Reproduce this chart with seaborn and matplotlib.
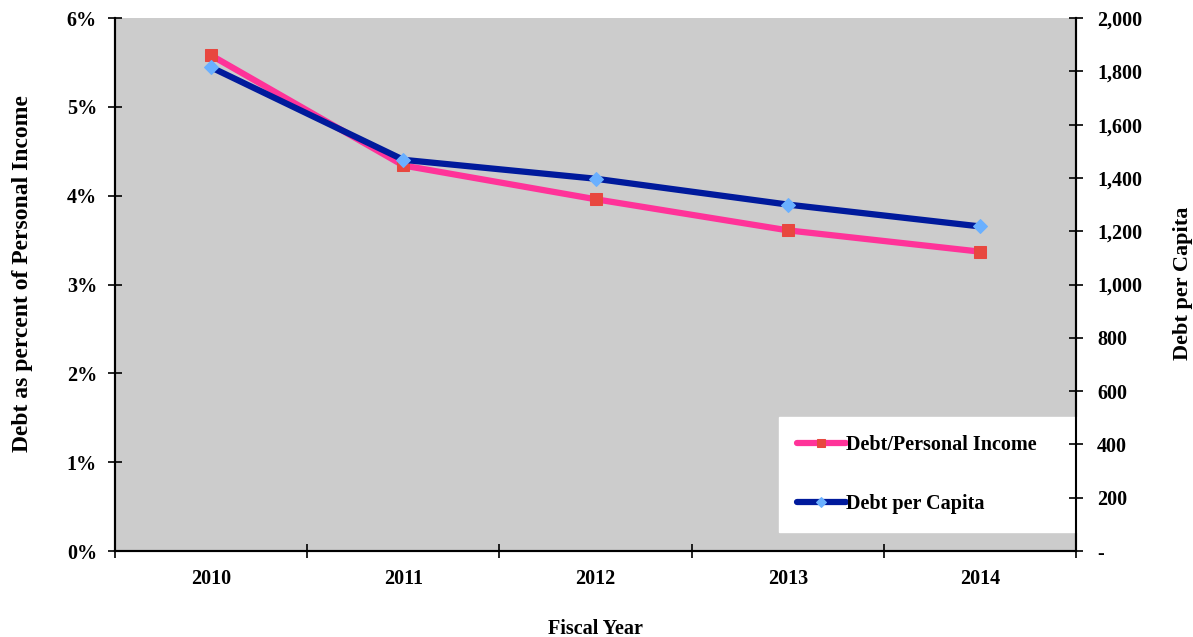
import matplotlib
matplotlib.use("Agg")
import matplotlib.pyplot as plt
import seaborn as sns
import pandas as pd
import numpy as np
from matplotlib.ticker import FixedLocator, FuncFormatter

years = ["2010", "2011", "2012", "2013", "2014"]
debt_pct_income = [5.58, 4.34, 3.96, 3.61, 3.37]
debt_per_capita = [1815, 1468, 1397, 1300, 1218]

sns.set_theme(style="white")
plt.rcParams['font.family'] = ['Liberation Serif', 'DejaVu Serif']
plt.rcParams['font.weight'] = 'bold'
plt.rcParams['text.color'] = 'black'
plt.rcParams['axes.labelcolor'] = 'black'
plt.rcParams['xtick.color'] = 'black'
plt.rcParams['ytick.color'] = 'black'

df = pd.DataFrame({"x": np.arange(len(years)), "pct": debt_pct_income, "cap": debt_per_capita})

fig = plt.figure(figsize=(11.93, 6.37), dpi=100)
ax = fig.add_axes([0.0964, 0.135, 0.8056, 0.8367])
ax.set_facecolor("#cccccc")
ax2 = ax.twinx()

sns.lineplot(data=df, x="x", y="pct", ax=ax, color="#ff3399", linewidth=4.5,
             marker="s", markersize=8, markerfacecolor="#e8473f", markeredgecolor="#e8473f",
             label="Debt/Personal Income", legend=False)
sns.lineplot(data=df, x="x", y="cap", ax=ax2, color="#001a9c", linewidth=4.5,
             marker="D", markersize=7, markerfacecolor="#6ab0ff", markeredgecolor="#6ab0ff",
             label="Debt per Capita", legend=False)

ax.set_xlim(-0.5, len(years) - 0.5)
ax.set_ylim(0, 6)
ax2.set_ylim(0, 2000)

ax.set_xticks(np.arange(len(years)))
ax.set_xticklabels(years)
ax.xaxis.set_minor_locator(FixedLocator(np.arange(-0.5, len(years), 1.0)))
ax.tick_params(axis="x", which="major", length=0, pad=13, labelsize=14.5)
ax.tick_params(axis="x", which="minor", length=10, width=1.2, direction="inout", color="black", bottom=True)

ax.set_yticks(np.arange(0, 7, 1))
ax.yaxis.set_major_formatter(FuncFormatter(lambda v, p: f"{int(v)}%"))
ax.tick_params(axis="y", which="major", length=10, width=1.2, direction="inout", color="black",
               left=True, labelsize=14.5, pad=8)

ax2.set_yticks(np.arange(0, 2001, 200))
ax2.yaxis.set_major_formatter(FuncFormatter(lambda v, p: "-" if v == 0 else f"{int(v):,}"))
ax2.tick_params(axis="y", which="major", length=10, width=1.2, direction="inout", color="black",
                right=True, labelsize=14.5, pad=10)

for a in (ax, ax2):
    a.spines["top"].set_visible(False)
    for side in ("left", "right", "bottom"):
        a.spines[side].set_color("black")
        a.spines[side].set_linewidth(1.5)
ax.grid(False)
ax2.grid(False)

for lab in ax.get_xticklabels() + ax.get_yticklabels() + ax2.get_yticklabels():
    lab.set_fontweight("bold")

ax.set_xlabel("Fiscal Year", fontsize=14.5, fontweight="bold")
ax.xaxis.set_label_coords(0.5, -0.128)
ax.set_ylabel("Debt as percent of Personal Income", fontsize=17, fontweight="bold")
ax.yaxis.set_label_coords(-0.0855, 0.52)
ax2.set_ylabel("Debt per Capita", fontsize=16, fontweight="bold")
ax2.yaxis.set_label_coords(1.1005, 0.503)

h1, l1 = ax.get_legend_handles_labels()
h2, l2 = ax2.get_legend_handles_labels()
leg = ax.legend(h1 + h2, l1 + l2, loc="lower left", bbox_to_anchor=(0.691, 0.036, 0.311, 0.22),
                mode="expand", frameon=True, fancybox=False, framealpha=1, edgecolor="white",
                prop={"size": 14.5, "weight": "bold"}, handlelength=2.4, handletextpad=0.0,
                labelspacing=1.9, borderpad=0.9, borderaxespad=0, markerscale=0.8)
leg.get_frame().set_facecolor("white")

fig.savefig("out.png", dpi=100)
